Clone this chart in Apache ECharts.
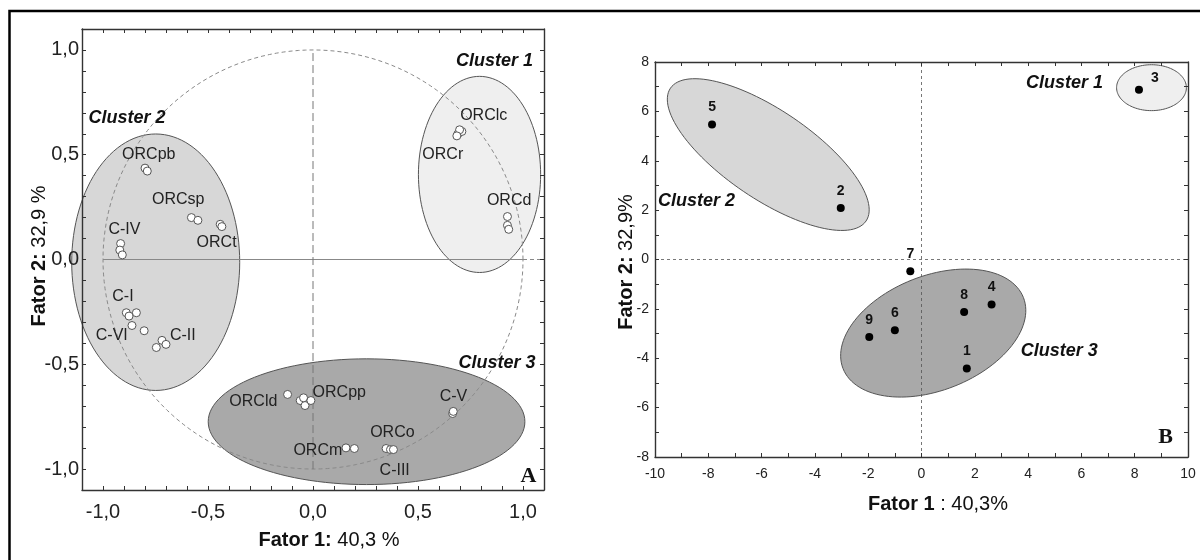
<!DOCTYPE html>
<html>
<head>
<meta charset="utf-8">
<script src="https://cdn.jsdelivr.net/npm/echarts@6/dist/echarts.min.js"></script>
<style>
  html, body { margin: 0; padding: 0; background: #fff; }
  #chart { width: 1200px; height: 560px; }
</style>
</head>
<body>
<div id="chart"></div>
<script>
// ---------------- DATA ----------------
// Panel A: loadings (Fator 1 vs Fator 2)
const aPointsX = [0.690, 0.709, 0.698, 0.685, 0.926, 0.926, 0.932,
                  -0.800, -0.789, -0.579, -0.548, -0.442, -0.434,
                  -0.916, -0.920, -0.908, -0.889, -0.876, -0.841, -0.862, -0.804,
                  -0.719, -0.700, -0.746,
                  -0.121, -0.061, -0.045, -0.038, -0.010, 0.665, 0.668,
                  0.157, 0.197, 0.348, 0.369, 0.383];
const aPointsY = [0.599, 0.611, 0.619, 0.590, 0.205, 0.163, 0.144,
                  0.436, 0.422, 0.200, 0.187, 0.168, 0.157,
                  0.076, 0.045, 0.022, -0.254, -0.270, -0.254, -0.315, -0.340,
                  -0.386, -0.405, -0.420,
                  -0.644, -0.673, -0.660, -0.697, -0.673, -0.735, -0.725,
                  -0.899, -0.902, -0.902, -0.907, -0.907];
const aLabelText = ['ORClc', 'ORCr', 'ORCd', 'ORCpb', 'ORCsp', 'C-IV', 'ORCt', 'C-I', 'C-VI', 'C-II',
                    'ORCld', 'ORCpp', 'C-V', 'ORCo', 'ORCm', 'C-III'];
const aLabelX = [0.813, 0.618, 0.934, -0.782, -0.642, -0.898, -0.459, -0.905, -0.958, -0.620,
                 -0.284, 0.125, 0.669, 0.378, 0.023, 0.389];
const aLabelY = [0.686, 0.500, 0.283, 0.499, 0.284, 0.141, 0.079, -0.178, -0.362, -0.362,
                 -0.680, -0.635, -0.656, -0.826, -0.911, -1.007];
const aClusterNames = ['Cluster 1', 'Cluster 2', 'Cluster 3'];
const aClusterCX = [0.793, -0.749, 0.255];
const aClusterCY = [0.406, -0.013, -0.774];
const aClusterRX = [0.291, 0.400, 0.754];
const aClusterRY = [0.468, 0.612, 0.300];
const aClusterLabelX = [0.864, -0.886, 0.876];
const aClusterLabelY = [0.945, 0.675, -0.496];
const aAxisTicks = [-1.0, -0.5, 0.0, 0.5, 1.0];

// Panel B: scores of samples 1..9
const bPointNames = ['1', '2', '3', '4', '5', '6', '7', '8', '9'];
const bPointsX = [1.70, -3.03, 8.16, 2.63, -7.86, -1.00, -0.42, 1.60, -1.96];
const bPointsY = [-4.42, 2.09, 6.88, -1.82, 5.47, -2.87, -0.48, -2.13, -3.14];
const bClusterNames = ['Cluster 1', 'Cluster 2', 'Cluster 3'];
const bClusterCX = [8.63, -5.75, 0.44];
const bClusterCY = [6.96, 4.25, -2.98];
const bClusterMajor = [[1.31, 0.0], [3.67, -2.69], [3.384, 1.440]];
const bClusterMinor = [[0.0, 0.93], [-0.936, -1.487], [0.786, -2.156]];
const bClusterLabelX = [5.37, -8.44, 5.17];
const bClusterLabelY = [7.15, 2.35, -3.69];
const bAxisTicksX = [-10, -8, -6, -4, -2, 0, 2, 4, 6, 8, 10];
const bAxisTicksY = [-8, -6, -4, -2, 0, 2, 4, 6, 8];

// ---------------- STYLE ----------------
const FONT = '"Liberation Sans", Arial, sans-serif';
const clusterFill = { 'Cluster 1': '#efefef', 'Cluster 2': '#d7d7d7', 'Cluster 3': '#a9a9a9' };
const axisColor = '#333';

function fmtA(v) {
  const r = Math.round(v * 10) / 10;
  const hit = aAxisTicks.some(t => Math.abs(t - r) < 1e-9);
  if (!hit) return '';
  return (r === 0 ? 0 : r).toFixed(1).replace('.', ',');
}
function fmtBX(v) {
  const r = Math.round(v);
  return bAxisTicksX.indexOf(r) >= 0 && Math.abs(v - r) < 1e-9 ? String(r === 0 ? 0 : r) : '';
}
function fmtBY(v) {
  const r = Math.round(v);
  return bAxisTicksY.indexOf(r) >= 0 && Math.abs(v - r) < 1e-9 ? String(r === 0 ? 0 : r) : '';
}

function valAxis(gridIndex, position, min, max, interval, fmt, fontSize, margin, showLabel) {
  return {
    type: 'value', gridIndex, position, min, max, interval, z: 6,
    axisLine: { show: true, onZero: false, lineStyle: { color: axisColor, width: 1.4 } },
    axisTick: { show: true, inside: true, length: 4, lineStyle: { color: axisColor, width: 1 } },
    axisLabel: { show: showLabel, formatter: fmt, fontSize, color: '#222', fontFamily: FONT, margin,
                 showMinLabel: true, showMaxLabel: true },
    splitLine: { show: false }
  };
}

const xAxes = [
  valAxis(0, 'bottom', -1.1, 1.1, 0.1, fmtA, 20, 12, true),
  valAxis(0, 'top', -1.1, 1.1, 0.1, fmtA, 20, 12, false),
  valAxis(1, 'bottom', -10, 10, 1, fmtBX, 14, 10, true),
  valAxis(1, 'top', -10, 10, 1, fmtBX, 14, 10, false)
];
const yAxes = [
  valAxis(0, 'left', -1.1, 1.1, 0.1, fmtA, 20, 3, true),
  valAxis(0, 'right', -1.1, 1.1, 0.1, fmtA, 20, 3, false),
  valAxis(1, 'left', -8, 8, 1, fmtBY, 14, 6, true),
  valAxis(1, 'right', -8, 8, 1, fmtBY, 14, 6, false)
];

// ellipse renderers
function renderAEllipse(params, api) {
  const cx = api.value(0), cy = api.value(1), rx = api.value(2), ry = api.value(3);
  const pts = [];
  for (let i = 0; i < 120; i++) {
    const t = i / 120 * Math.PI * 2;
    pts.push(api.coord([cx + rx * Math.cos(t), cy + ry * Math.sin(t)]));
  }
  return { type: 'polygon', shape: { points: pts },
           style: { fill: clusterFill[aClusterNames[params.dataIndex]], stroke: '#555', lineWidth: 1 } };
}
function renderBEllipse(params, api) {
  const cx = api.value(0), cy = api.value(1);
  const ux = api.value(2), uy = api.value(3), vx = api.value(4), vy = api.value(5);
  const pts = [];
  for (let i = 0; i < 120; i++) {
    const t = i / 120 * Math.PI * 2;
    const c = Math.cos(t), s = Math.sin(t);
    pts.push(api.coord([cx + ux * c + vx * s, cy + uy * c + vy * s]));
  }
  return { type: 'polygon', shape: { points: pts },
           style: { fill: clusterFill[bClusterNames[params.dataIndex]], stroke: '#555', lineWidth: 1 } };
}
function renderCircle(params, api) {
  const cx = api.value(0), cy = api.value(1), r = api.value(2);
  const pts = [];
  for (let i = 0; i <= 180; i++) {
    const t = i / 180 * Math.PI * 2;
    pts.push(api.coord([cx + r * Math.cos(t), cy + r * Math.sin(t)]));
  }
  return { type: 'polyline', shape: { points: pts },
           style: { fill: null, stroke: '#8a8a8a', lineWidth: 1, lineDash: [4, 3] } };
}
function textRenderer(texts, font) {
  return function (params, api) {
    const p = api.coord([api.value(0), api.value(1)]);
    return { type: 'text', x: p[0], y: p[1],
             style: Object.assign({ text: texts[params.dataIndex], align: 'center', verticalAlign: 'middle',
                                    fill: '#111', fontFamily: FONT }, font) };
  };
}

const series = [
  // Panel A ellipses
  { type: 'custom', xAxisIndex: 0, yAxisIndex: 0, z: 1, clip: false, silent: true,
    renderItem: renderAEllipse, encode: { x: 0, y: 1 },
    data: aClusterCX.map((x, i) => [x, aClusterCY[i], aClusterRX[i], aClusterRY[i]]) },
  // unit circle
  { type: 'custom', xAxisIndex: 0, yAxisIndex: 0, z: 2, clip: false, silent: true,
    renderItem: renderCircle, encode: { x: 0, y: 1 }, data: [[0, 0, 1]] },
  // zero lines panel A
  { type: 'line', xAxisIndex: 0, yAxisIndex: 0, z: 2, clip: false, silent: true, symbol: 'none',
    lineStyle: { color: '#888', width: 1, type: [4, 3] }, data: [[1, 0], [1.13, 0]] },
  { type: 'line', xAxisIndex: 0, yAxisIndex: 0, z: 2, silent: true, symbol: 'none',
    lineStyle: { color: '#888', width: 1.2 }, data: [[-1, 0], [1, 0]] },
  { type: 'line', xAxisIndex: 0, yAxisIndex: 0, z: 2, silent: true, symbol: 'none',
    lineStyle: { color: '#777', width: 1, type: [8, 4] }, data: [[0, -1], [0, 1]] },
  // points panel A
  { type: 'scatter', xAxisIndex: 0, yAxisIndex: 0, z: 3, silent: true, symbolSize: 8,
    itemStyle: { color: '#fff', borderColor: '#555', borderWidth: 1, opacity: 1 },
    data: aPointsX.map((x, i) => [x, aPointsY[i]]) },
  // labels panel A
  { type: 'custom', xAxisIndex: 0, yAxisIndex: 0, z: 4, clip: false, silent: true,
    renderItem: textRenderer(aLabelText, { fontSize: 16, fill: '#222' }), encode: { x: 0, y: 1 },
    data: aLabelX.map((x, i) => [x, aLabelY[i]]) },
  { type: 'custom', xAxisIndex: 0, yAxisIndex: 0, z: 4, clip: false, silent: true,
    renderItem: textRenderer(aClusterNames, { fontSize: 18, fontWeight: 'bold', fontStyle: 'italic' }),
    encode: { x: 0, y: 1 }, data: aClusterLabelX.map((x, i) => [x, aClusterLabelY[i]]) },

  // Panel B ellipses
  { type: 'custom', xAxisIndex: 2, yAxisIndex: 2, z: 1, clip: false, silent: true,
    renderItem: renderBEllipse, encode: { x: 0, y: 1 },
    data: bClusterCX.map((x, i) => [x, bClusterCY[i], bClusterMajor[i][0], bClusterMajor[i][1],
                                    bClusterMinor[i][0], bClusterMinor[i][1]]) },
  // zero lines panel B
  { type: 'line', xAxisIndex: 2, yAxisIndex: 2, z: 2, silent: true, symbol: 'none',
    lineStyle: { color: '#555', width: 0.8, type: [3, 3] }, data: [[-10, 0], [10, 0]] },
  { type: 'line', xAxisIndex: 2, yAxisIndex: 2, z: 2, silent: true, symbol: 'none',
    lineStyle: { color: '#555', width: 0.8, type: [3, 3] }, data: [[0, -8], [0, 8]] },
  // points panel B
  { type: 'scatter', xAxisIndex: 2, yAxisIndex: 2, z: 3, silent: true, symbolSize: 8,
    itemStyle: { color: '#000', opacity: 1 },
    label: { show: true, position: 'top', distance: 6, formatter: '{b}', fontSize: 14, fontWeight: 'bold',
             color: '#111', fontFamily: FONT },
    data: bPointsX.map((x, i) => {
      const item = { name: bPointNames[i], value: [x, bPointsY[i]] };
      if (bPointNames[i] === '3') item.label = { position: 'right', offset: [2, -12] };
      return item;
    }) },
  { type: 'custom', xAxisIndex: 2, yAxisIndex: 2, z: 4, clip: false, silent: true,
    renderItem: textRenderer(bClusterNames, { fontSize: 18, fontWeight: 'bold', fontStyle: 'italic' }),
    encode: { x: 0, y: 1 }, data: bClusterLabelX.map((x, i) => [x, bClusterLabelY[i]]) }
];

const titleRich = (size) => ({
  b: { fontWeight: 'bold', fontSize: size, fontFamily: FONT, fill: '#111' },
  n: { fontWeight: 'normal', fontSize: size, fontFamily: FONT, fill: '#111' }
});

const option = {
  animation: false,
  backgroundColor: '#fff',
  grid: [
    { left: 82, top: 29, width: 462, height: 461 },
    { left: 655, top: 62, width: 533, height: 395 }
  ],
  xAxis: xAxes,
  yAxis: yAxes,
  series,
  graphic: [
    { type: 'rect', silent: true, z: 100,
      shape: { x: 9.5, y: 11, width: 1400, height: 800 },
      style: { fill: null, stroke: '#000', lineWidth: 2.5 } },
    { type: 'text', silent: true, x: 329, y: 540,
      style: { text: '{b|Fator 1:}{n| 40,3 %}', rich: titleRich(20), align: 'center', verticalAlign: 'middle' } },
    { type: 'text', silent: true, x: 39, y: 256, rotation: Math.PI / 2,
      style: { text: '{b|Fator 2:}{n| 32,9 %}', rich: titleRich(20), align: 'center', verticalAlign: 'middle' } },
    { type: 'text', silent: true, x: 938, y: 504,
      style: { text: '{b|Fator 1}{n| : 40,3%}', rich: titleRich(20), align: 'center', verticalAlign: 'middle' } },
    { type: 'text', silent: true, x: 626, y: 262, rotation: Math.PI / 2,
      style: { text: '{b|Fator 2:}{n| 32,9%}', rich: titleRich(20), align: 'center', verticalAlign: 'middle' } },
    { type: 'text', silent: true, x: 528.5, y: 476,
      style: { text: 'A', fontSize: 22, fontWeight: 'bold', fontFamily: '"Liberation Serif", "Times New Roman", serif',
               fill: '#111', align: 'center', verticalAlign: 'middle' } },
    { type: 'text', silent: true, x: 1165.5, y: 437,
      style: { text: 'B', fontSize: 22, fontWeight: 'bold', fontFamily: '"Liberation Serif", "Times New Roman", serif',
               fill: '#111', align: 'center', verticalAlign: 'middle' } }
  ]
};

const chart = echarts.init(document.getElementById('chart'), null, { renderer: 'canvas' });
chart.setOption(option);
</script>
</body>
</html>
